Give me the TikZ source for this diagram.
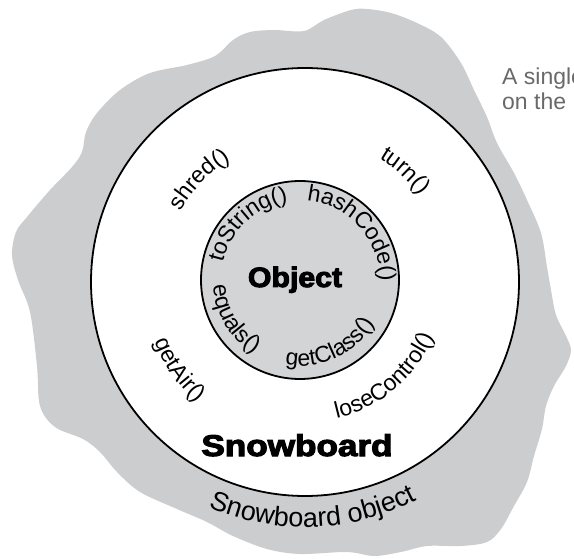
\documentclass[tikz,border=0pt]{standalone}
\usepackage{fontspec}
\setmainfont{Liberation Sans}
\newfontfamily\heavyfont[FakeBold=3.5]{Liberation Sans}
\usetikzlibrary{decorations.text,calc}
\definecolor{blobgray}{RGB}{204,205,207}
\definecolor{innergray}{RGB}{211,212,214}
\definecolor{notegray}{RGB}{105,105,105}
\newcommand\lblfont{\fontsize{23}{26}\selectfont}
\newcommand\ringfont{\fontsize{27}{30}\selectfont}
\tikzset{
  ring/.style={draw=black, line width=1.8pt},
  cwlabel/.style={decorate, decoration={text along path, text align=center, text={|\lblfont|#1}}},
  biglabel/.style={decorate, decoration={text along path, text align=center, text={|\ringfont|#1}}},
  heavy/.style={font=\heavyfont\bfseries, inner sep=0pt, anchor=base},
  note/.style={font=\fontsize{23}{26}\selectfont, text=notegray, inner sep=0pt, anchor=base west}
}
\begin{document}
\begin{tikzpicture}[x=1pt,y=1pt]
\useasboundingbox (0,0) rectangle (574,-559);
\clip (0,0) rectangle (574,-559);
% gray blob
\fill[blobgray] plot[smooth cycle, tension=0.55] coordinates {
 (274,-30) (304,-31) (324,-20) (351,-10) (367,-9) (391,-13) (417,-23) (441,-37)
 (461,-63) (474,-90) (487,-117) (497,-143) (514,-173) (527,-200) (541,-233)
 (547,-267) (551,-290) (556,-315) (566,-336) (571,-350) (566,-366) (554,-386)
 (546,-406) (542,-429) (534,-456) (527,-482) (514,-506) (501,-529) (487,-542)
 (461,-546) (427,-546) (401,-552) (374,-556) (347,-552) (300,-554) (267,-549)
 (233,-536) (207,-522) (177,-509) (140,-492) (117,-472) (100,-452) (83,-439)
 (55,-427) (40,-406) (37,-366) (30,-312) (18,-280) (12,-255) (16,-232)
 (27,-217) (50,-190) (72,-167) (82,-152) (86,-132) (97,-113) (120,-90)
 (150,-73) (187,-65) (215,-56) (233,-40) (250,-32)};
% outer (Snowboard) circle
\coordinate (c2) at (305,-282);
\coordinate (c1) at (300,-280);
\filldraw[ring, fill=white] (c2) circle[radius=214];
% inner (Object) circle
\filldraw[ring, fill=innergray] (c1) circle[radius=99];
% inner labels
\path[cwlabel={toString()}] ($(c1)+(213:79)$) arc[start angle=213, end angle=53, radius=79];
\path[cwlabel={hashCode()}] ($(c1)+(122:80)$) arc[start angle=122, end angle=-38, radius=80];
\path[cwlabel={equals()}] ($(c1)+(141:87)$) arc[start angle=141, end angle=281, radius=87];
\path[cwlabel={getClass()}] ($(c1)+(220:86)$) arc[start angle=220, end angle=370, radius=86];
% outer ring labels
\path[cwlabel={shred()}] ($(c2)+(190:143)$) arc[start angle=190, end angle=82, radius=143];
\path[cwlabel={turn()}] ($(c2)+(100:144)$) arc[start angle=100, end angle=-4, radius=144];
\path[cwlabel={getAir()}] ($(c2)+(160:162)$) arc[start angle=160, end angle=270, radius=162];
\path[cwlabel={loseControl()}] ($(c2)+(240:140)$) arc[start angle=240, end angle=380, radius=140];
\path[biglabel={Snowboard object}] ($(c2)+(200:245)$) arc[start angle=200, end angle=344, radius=245];
% class names
\node[heavy, font=\heavyfont\bfseries\fontsize{28}{32}\selectfont, xscale=1.08] (obj) at (295,-287) {Object};
\node[heavy, font=\heavyfont\bfseries\fontsize{30}{34}\selectfont, xscale=1.17] (snow) at (297,-456) {Snowboard};
% note
\node[note] (note1) at (502,-85) {A single};
\node[note] (note2) at (502,-110) {on the};
\end{tikzpicture}
\end{document}
